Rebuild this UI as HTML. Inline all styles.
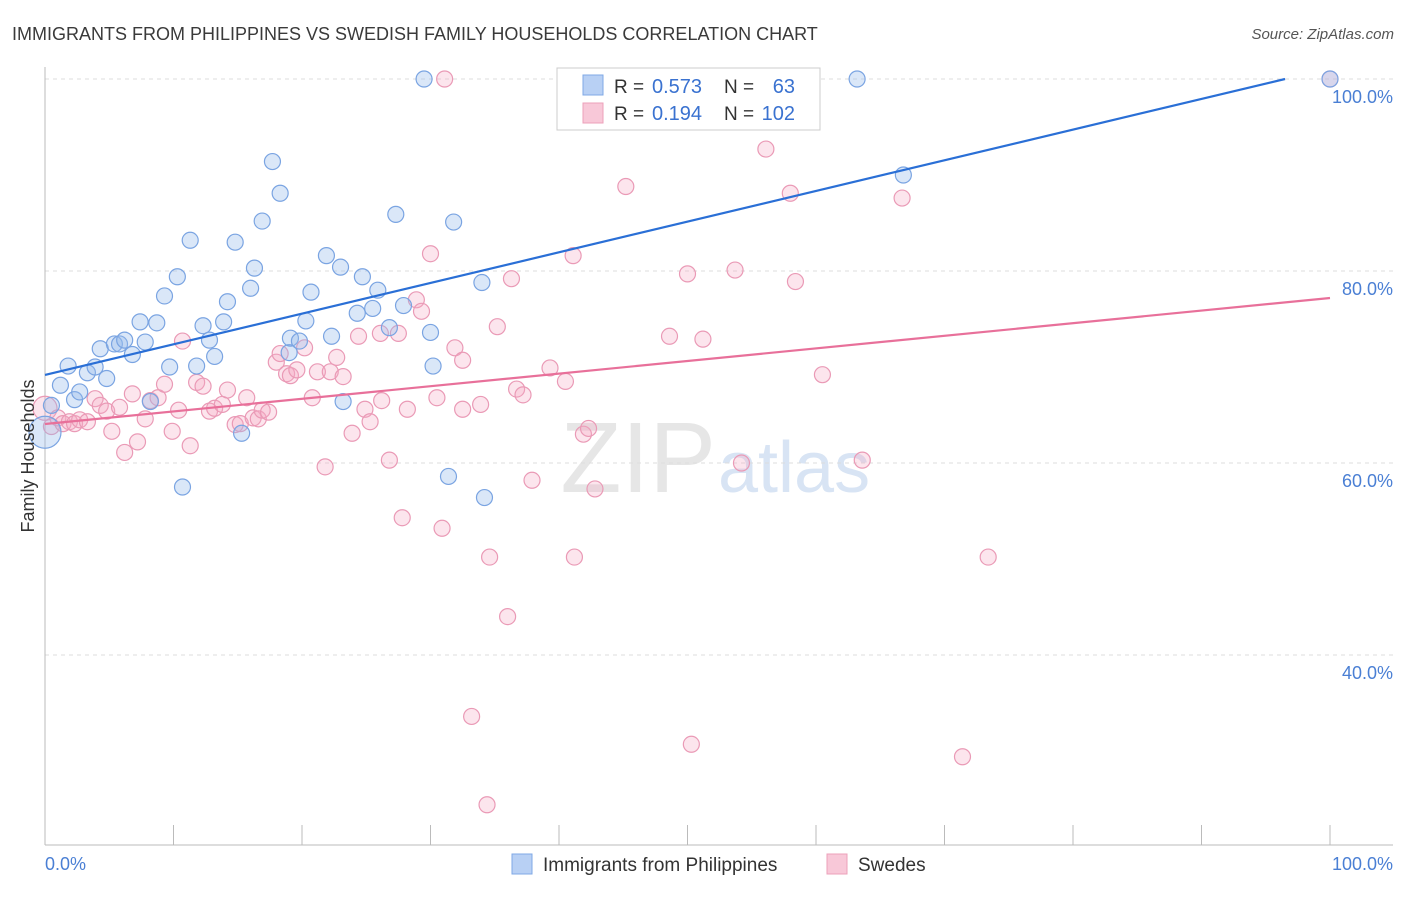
<!DOCTYPE html>
<html><head><meta charset="utf-8"><style>
body{margin:0;background:#fff;font-family:"Liberation Sans",sans-serif;}
svg text{font-family:"Liberation Sans",sans-serif;}
</style></head><body>
<svg id="chart" width="1406" height="892" xmlns="http://www.w3.org/2000/svg">
<text x="12" y="40" font-size="18" fill="#3a3a3a">IMMIGRANTS FROM PHILIPPINES VS SWEDISH FAMILY HOUSEHOLDS CORRELATION CHART</text>
<text x="1394" y="39" font-size="15" fill="#555" font-style="italic" text-anchor="end">Source: ZipAtlas.com</text>
<text x="716" y="492" font-size="100" fill="#e6e6e6" font-family="Liberation Serif,serif" text-anchor="end">ZIP</text>
<text x="718" y="492" font-size="72" fill="#d8e4f4">atlas</text>
<g id="grid"></g><g id="axes"></g><g id="pts"></g><g id="lines"></g>
<text transform="translate(34,456) rotate(-90)" font-size="18" fill="#333" text-anchor="middle">Family Households</text>
<text x="45" y="870" font-size="18" fill="#4a7fd4">0.0%</text>
<text x="1393" y="870" font-size="18" fill="#4a7fd4" text-anchor="end">100.0%</text>
<g>
<rect x="557" y="68" width="263" height="62" fill="#fff" stroke="#ccc"/>
<rect x="583" y="75" width="20" height="20" fill="#b8d0f4" stroke="#7fa8e6"/>
<rect x="583" y="103" width="20" height="20" fill="#f8c8d8" stroke="#eca0ba"/>
<text x="614" y="93" font-size="19" fill="#333">R =</text>
<text x="652" y="93" font-size="20" fill="#3a72d0">0.573</text>
<text x="724" y="93" font-size="19" fill="#333">N =</text>
<text x="795" y="93" font-size="20" fill="#3a72d0" text-anchor="end">63</text>
<text x="614" y="120" font-size="19" fill="#333">R =</text>
<text x="652" y="120" font-size="20" fill="#3a72d0">0.194</text>
<text x="724" y="120" font-size="19" fill="#333">N =</text>
<text x="795" y="120" font-size="20" fill="#3a72d0" text-anchor="end">102</text>
</g>
<g>
<rect x="512" y="854" width="20" height="20" fill="#b8d0f4" stroke="#7fa8e6"/>
<text x="543" y="871" font-size="19" fill="#333">Immigrants from Philippines</text>
<rect x="827" y="854" width="20" height="20" fill="#f8c8d8" stroke="#eca0ba"/>
<text x="858" y="871" font-size="19" fill="#333">Swedes</text>
</g>
</svg>
<script>
const yTicks=[40,60,80,100];
const yTickLabels=["40.0%","60.0%","80.0%","100.0%"];
const blueX=[0,0.5,1.2,1.8,2.3,2.7,3.3,3.9,4.3,4.8,5.4,5.8,6.2,6.8,7.4,7.8,8.2,8.7,9.3,9.7,10.3,10.7,11.3,11.8,12.3,12.8,13.2,13.9,14.2,14.8,15.3,16.0,16.3,16.9,17.7,18.3,19.0,19.1,19.8,20.3,20.7,21.9,22.3,23.0,23.2,24.3,24.7,25.5,25.9,26.8,27.3,27.9,29.5,30.0,30.2,31.4,31.8,34.0,34.2,63.2,66.8,100];
const blueY=[63.2,66.0,68.1,70.1,66.6,67.4,69.4,70.0,71.9,68.8,72.4,72.4,72.8,71.3,74.7,72.6,66.4,74.6,77.4,70.0,79.4,57.5,83.2,70.1,74.3,72.8,71.1,74.7,76.8,83.0,63.1,78.2,80.3,85.2,91.4,88.1,71.5,73.0,72.7,74.8,77.8,81.6,73.2,80.4,66.4,75.6,79.4,76.1,78.0,74.1,85.9,76.4,100,73.6,70.1,58.6,85.1,78.8,56.4,100,90.0,100];
const pinkX=[0,0.5,1.0,1.4,1.9,2.3,2.7,3.3,3.9,4.3,4.8,5.2,5.8,6.2,6.8,7.2,7.8,8.2,8.8,9.3,9.9,10.4,10.7,11.3,11.8,12.3,12.8,13.2,13.8,14.2,14.8,15.2,15.7,16.2,16.6,16.9,17.4,18.0,18.3,18.8,19.1,19.6,20.2,20.8,21.2,21.8,22.2,22.7,23.2,23.9,24.4,24.9,25.3,26.2,26.1,26.8,27.5,27.8,28.2,28.9,29.3,30.0,30.5,30.9,31.1,31.9,32.5,32.5,33.2,33.9,34.4,34.6,35.2,36.0,36.3,36.7,37.2,37.9,39.3,40.5,41.1,41.2,41.9,42.3,42.8,45.2,48.6,50.0,50.3,51.2,53.7,54.2,56.1,58.0,58.4,60.5,63.6,66.7,71.4,73.4,100];
const pinkY=[65.7,63.8,64.7,64.1,64.3,64.1,64.5,64.3,66.7,66.0,65.4,63.3,65.8,61.1,67.2,62.2,64.6,66.5,66.8,68.2,63.3,65.5,72.7,61.8,68.4,68.0,65.4,65.7,66.1,67.6,64.0,64.1,66.8,64.7,64.6,65.5,65.3,70.5,71.4,69.3,69.1,69.7,72.0,66.8,69.5,59.6,69.5,71.0,69.0,63.1,73.2,65.6,64.3,66.5,73.5,60.3,73.5,54.3,65.6,77.0,75.8,81.8,66.8,53.2,100,72.0,70.7,65.6,33.6,66.1,24.4,50.2,74.2,44.0,79.2,67.7,67.1,58.2,69.9,68.5,81.6,50.2,63.0,63.6,57.3,88.8,73.2,79.7,30.7,72.9,80.1,60.0,92.7,88.1,78.9,69.2,60.3,87.6,29.4,50.2,100];
const blueTrend=[69.17,100.0];
const blueTrendX=[0,96.5];
const pinkTrend=[64.06,77.19];
const pinkTrendX=[0,100];
const NS="http://www.w3.org/2000/svg";
const sx=v=>45+v*12.85, sy=v=>79+(100-v)*9.6;
function mk(tag,attrs,parent){const e=document.createElementNS(NS,tag);for(const k in attrs)e.setAttribute(k,attrs[k]);document.getElementById(parent).appendChild(e);return e;}
yTicks.forEach((t,i)=>{
 const l=mk('line',{x1:45,x2:1393,y1:sy(t),y2:sy(t),stroke:'#ddd','stroke-dasharray':'4,4'},'grid');
 
 
 const tx=mk('text',{x:1393,y:sy(t)+24,'font-size':18,fill:'#4a7fd4','text-anchor':'end'},'grid');
 tx.textContent=yTickLabels[i];
 
 
});
let a=mk('line',{x1:45,x2:45,y1:67,y2:845,stroke:'#bbb'},'axes');


a=mk('line',{x1:45,x2:1393,y1:845,y2:845,stroke:'#bbb'},'axes');


for(let k=1;k<=10;k++){const t=mk('line',{x1:sx(k*10),x2:sx(k*10),y1:825,y2:845,stroke:'#bbb'},'axes');
 
 }
pinkX.forEach((x,i)=>{const c=mk('circle',{cx:sx(x),cy:sy(pinkY[i]),r:i===0?12:8,fill:'rgba(244,170,196,0.3)',stroke:'#ea9ab6','stroke-width':1.2},'pts');
 
 });
blueX.forEach((x,i)=>{const c=mk('circle',{cx:sx(x),cy:sy(blueY[i]),r:i===0?16:8,fill:'rgba(150,185,236,0.35)',stroke:'#7aa4e2','stroke-width':1.2},'pts');
 
 });
let ln=mk('line',{x1:sx(blueTrendX[0]),y1:sy(blueTrend[0]),x2:sx(blueTrendX[1]),y2:sy(blueTrend[1]),stroke:'#2a6fd6','stroke-width':2.2},'lines');


ln=mk('line',{x1:sx(pinkTrendX[0]),y1:sy(pinkTrend[0]),x2:sx(pinkTrendX[1]),y2:sy(pinkTrend[1]),stroke:'#e8709a','stroke-width':2.2},'lines');


</script>
</body></html>
